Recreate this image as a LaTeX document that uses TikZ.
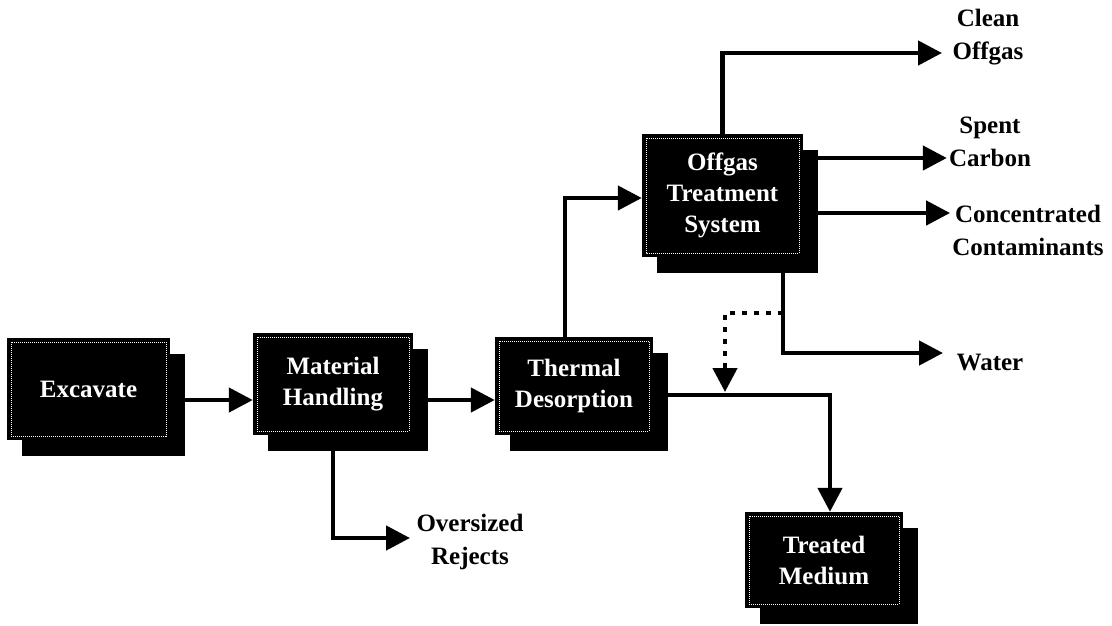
\documentclass[tikz,border=0pt]{standalone}
\usepackage{fontspec}
\setmainfont{Liberation Serif}
\usetikzlibrary{arrows.meta}
\usetikzlibrary{shadows}

\begin{document}
\begin{tikzpicture}[x=1pt,y=-1pt,
    unit/.style={fill=black, text=white, align=center, inner sep=0pt,
      font=\bfseries\fontsize{25}{31}\selectfont,
      drop shadow={shadow xshift=15pt, shadow yshift=-16pt, fill=black, opacity=1},
      path picture={\draw[white, densely dotted, line width=1pt]
        ([shift={(4pt,-4pt)}]path picture bounding box.north west) rectangle
        ([shift={(-4pt,4pt)}]path picture bounding box.south east);}},
    stream/.style={font=\bfseries\fontsize{25}{33}\selectfont, align=center, inner sep=2pt},
    flow/.style={line width=4.5pt, -{Triangle[length=24pt,width=24pt]}},
    recycle/.style={flow, dash pattern=on 5pt off 7pt}]
                    \useasboundingbox (0,0) rectangle (1112,625);

                    \node[unit, minimum width=163pt, minimum height=102pt] (excav) at (88.5,389) {Excavate};
                    \node[unit, minimum width=160pt, minimum height=102pt] (handl) at (333,384) {Material\\Handling};
                    \node[unit, minimum width=158pt, minimum height=98pt] (desorb) at (574,386) {Thermal\\Desorption};
                    \node[unit, minimum width=161pt, minimum height=123pt] (treat) at (722.5,195.5) {Offgas\\Treatment\\System};
                    \node[unit, minimum width=158pt, minimum height=96pt] (medium) at (824,560) {Treated\\Medium};

                    \node[stream] (clean) at (988,37) {Clean\\Offgas};
                    \node[stream] (carbon) at (990,142) {Spent\\Carbon};
                    \node[stream] (conc) at (1028,230) {Concentrated\\Contaminants};
                    \node[stream] (water) at (990,362) {Water};
                    \node[stream] (rejects) at (470,542) {Oversized\\Rejects};

                    \coordinate (offgasTip) at (942,53);
                    \coordinate (waterTip) at (943,353);
                    \coordinate (rejTip) at (410,538);
                    \coordinate (junc) at (830,395);
                    \coordinate (split) at (783,313);
                    \coordinate (mix) at (725,392);

                    \draw[flow] (excav.east |- 0,400) -- (handl.west |- 0,400);
                    \draw[flow] (handl.east |- 0,400) -- (desorb.west |- 0,400);
                    \draw[flow] (handl.south) |- (rejTip);
                    \draw[flow] (desorb.north -| 565,0) |- (treat.west |- 0,198);
                    \draw[flow] (desorb.east |- junc) -- (junc) -- (medium.north -| junc);
                    \draw[flow] (treat.north) |- (offgasTip);
                    \draw[flow] (treat.east |- 0,158) -- (carbon.west |- 0,158);
                    \draw[flow] (treat.east |- 0,213) -- (conc.west |- 0,213);
                    \draw[flow] (treat.south -| split) |- (waterTip);
                    \draw[recycle] (split) -| (mix);
                \end{tikzpicture}
\end{document}
